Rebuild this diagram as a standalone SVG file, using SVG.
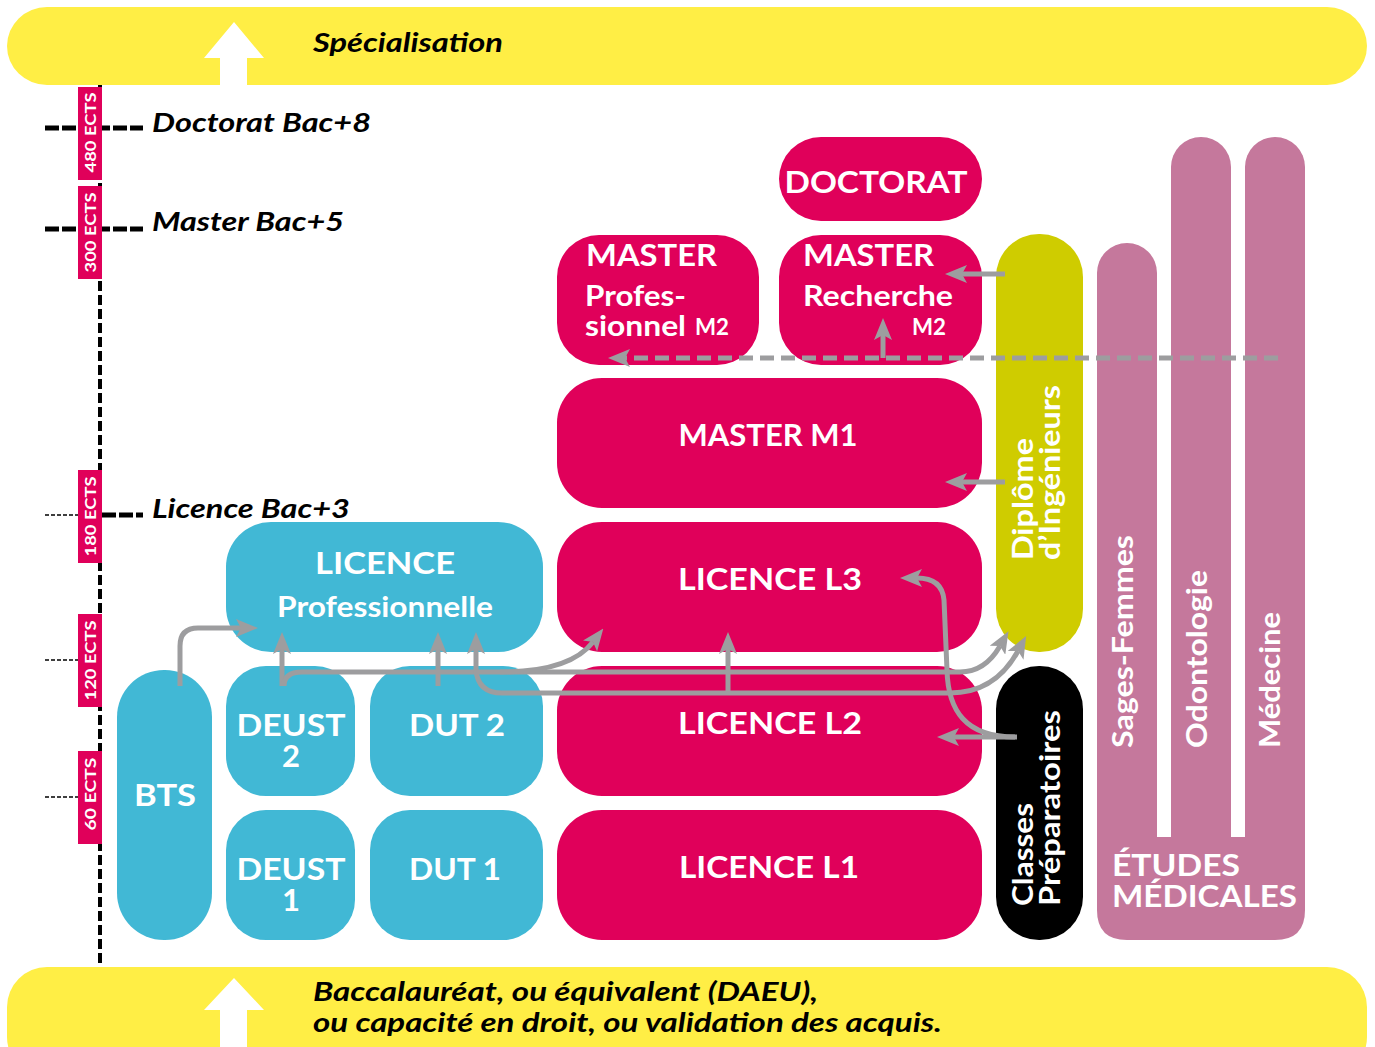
<svg xmlns="http://www.w3.org/2000/svg" width="1375" height="1047" viewBox="0 0 1375 1047">
<style>
.lbl{font-family:Lato,"Open Sans","Liberation Sans",sans-serif;font-weight:700;fill:#fff}
.it{font-family:Lato,"Open Sans","Liberation Sans",sans-serif;font-weight:700;font-style:italic;fill:#000}
.mag{fill:#E0005A}
.cy{fill:#41B8D5}
.pk{fill:#C5789C}
.con{fill:none;stroke:#9D9D9F;stroke-width:5}
.ects{font-family:Lato,"Open Sans","Liberation Sans",sans-serif;font-weight:700;font-size:16px;fill:#fff}
</style>
<defs>
<marker id="ah" viewBox="0 0 22 18" refX="5" refY="9" markerWidth="22" markerHeight="18" markerUnits="userSpaceOnUse" orient="auto-start-reverse">
<path d="M0,0 L22,9 L0,18 L5,9 z" fill="#9D9D9F"/>
</marker>
</defs>
<rect width="1375" height="1047" fill="#fff"/>

<g id="banner-top">
<rect x="7" y="7" width="1360" height="78" rx="40" fill="#FFEE45"/>
<path d="M220,85 V58 H204 L234,22 L264,58 H247 V85 z" fill="#fff"/>
<text class="it" x="313" y="52" font-size="27" textLength="190" lengthAdjust="spacingAndGlyphs">Spécialisation</text>
</g>

<g id="banner-bottom">
<rect x="7" y="967" width="1360" height="110" rx="40" fill="#FFEE45"/>
<path d="M220,1047 V1010 H204 L234,978 L264,1010 H247 V1047 z" fill="#fff"/>
<text class="it" x="313" y="1001" font-size="27" textLength="505" lengthAdjust="spacingAndGlyphs">Baccalauréat, ou équivalent (DAEU),</text>
<text class="it" x="313" y="1032" font-size="27" textLength="629" lengthAdjust="spacingAndGlyphs">ou capacité en droit, ou validation des acquis.</text>
</g>

<g id="axis">
<line x1="100" y1="85" x2="100" y2="967" stroke="#000" stroke-width="4" stroke-dasharray="10 4"/>
<line x1="45" y1="128" x2="143" y2="128" stroke="#000" stroke-width="5" stroke-dasharray="14 3"/>
<line x1="45" y1="229" x2="143" y2="229" stroke="#000" stroke-width="5" stroke-dasharray="14 3"/>
<line x1="45" y1="515" x2="78" y2="515" stroke="#000" stroke-width="1.5" stroke-dasharray="4 2"/>
<line x1="102" y1="515" x2="143" y2="515" stroke="#000" stroke-width="5" stroke-dasharray="14 3"/>
<line x1="45" y1="660" x2="78" y2="660" stroke="#000" stroke-width="1.5" stroke-dasharray="4 2"/>
<line x1="45" y1="797" x2="78" y2="797" stroke="#000" stroke-width="1.5" stroke-dasharray="4 2"/>
<rect class="mag" x="78" y="87" width="24" height="93"/>
<rect class="mag" x="78" y="186" width="24" height="93"/>
<rect class="mag" x="78" y="470" width="24" height="93"/>
<rect class="mag" x="78" y="614" width="24" height="93"/>
<rect class="mag" x="78" y="751" width="24" height="93"/>
<text class="ects" text-anchor="middle" textLength="80" lengthAdjust="spacingAndGlyphs" transform="translate(96,132.5) rotate(-90)">480 ECTS</text>
<text class="ects" text-anchor="middle" textLength="80" lengthAdjust="spacingAndGlyphs" transform="translate(96,232.5) rotate(-90)">300 ECTS</text>
<text class="ects" text-anchor="middle" textLength="80" lengthAdjust="spacingAndGlyphs" transform="translate(96,516.5) rotate(-90)">180 ECTS</text>
<text class="ects" text-anchor="middle" textLength="80" lengthAdjust="spacingAndGlyphs" transform="translate(96,660.5) rotate(-90)">120 ECTS</text>
<text class="ects" text-anchor="middle" textLength="73" lengthAdjust="spacingAndGlyphs" transform="translate(96,794) rotate(-90)">60 ECTS</text>
<text class="it" x="152" y="132" font-size="27" textLength="219" lengthAdjust="spacingAndGlyphs">Doctorat Bac+8</text>
<text class="it" x="152" y="231" font-size="27" textLength="192" lengthAdjust="spacingAndGlyphs">Master Bac+5</text>
<text class="it" x="152" y="518" font-size="27" textLength="198" lengthAdjust="spacingAndGlyphs">Licence Bac+3</text>
</g>

<g id="bts">
<rect class="cy" x="117" y="670" width="95" height="270" rx="47"/>
<text class="lbl" x="165" y="806" font-size="31" text-anchor="middle" textLength="62" lengthAdjust="spacingAndGlyphs">BTS</text>
</g>
<g id="deust2">
<rect class="cy" x="226" y="666" width="129" height="130" rx="40"/>
<text class="lbl" x="291" y="736" font-size="31" text-anchor="middle" textLength="109" lengthAdjust="spacingAndGlyphs">DEUST</text>
<text class="lbl" x="291" y="767" font-size="31" text-anchor="middle">2</text>
</g>
<g id="deust1">
<rect class="cy" x="226" y="810" width="129" height="130" rx="40"/>
<text class="lbl" x="291" y="880" font-size="31" text-anchor="middle" textLength="109" lengthAdjust="spacingAndGlyphs">DEUST</text>
<text class="lbl" x="291" y="911" font-size="31" text-anchor="middle">1</text>
</g>
<g id="dut2">
<rect class="cy" x="370" y="666" width="173" height="130" rx="40"/>
<text class="lbl" x="457" y="736" font-size="31" text-anchor="middle" textLength="96" lengthAdjust="spacingAndGlyphs">DUT 2</text>
</g>
<g id="dut1">
<rect class="cy" x="370" y="810" width="173" height="130" rx="40"/>
<text class="lbl" x="455" y="880" font-size="31" text-anchor="middle" textLength="92" lengthAdjust="spacingAndGlyphs">DUT 1</text>
</g>
<g id="licence-pro">
<rect class="cy" x="226" y="522" width="317" height="130" rx="45"/>
<text class="lbl" x="385" y="574" font-size="31" text-anchor="middle" textLength="140" lengthAdjust="spacingAndGlyphs">LICENCE</text>
<text class="lbl" x="385" y="617" font-size="29" text-anchor="middle" textLength="216" lengthAdjust="spacingAndGlyphs">Professionnelle</text>
</g>
<g id="licence-l1">
<rect class="mag" x="557" y="810" width="425" height="130" rx="45"/>
<text class="lbl" x="769" y="878" font-size="31" text-anchor="middle" textLength="180" lengthAdjust="spacingAndGlyphs">LICENCE L1</text>
</g>
<g id="licence-l2">
<rect class="mag" x="557" y="666" width="425" height="130" rx="45"/>
<text class="lbl" x="770" y="734" font-size="31" text-anchor="middle" textLength="184" lengthAdjust="spacingAndGlyphs">LICENCE L2</text>
</g>
<g id="licence-l3">
<rect class="mag" x="557" y="522" width="425" height="130" rx="45"/>
<text class="lbl" x="770" y="590" font-size="31" text-anchor="middle" textLength="184" lengthAdjust="spacingAndGlyphs">LICENCE L3</text>
</g>
<g id="master-m1">
<rect class="mag" x="557" y="378" width="425" height="130" rx="45"/>
<text class="lbl" x="768" y="446" font-size="31" text-anchor="middle" textLength="179" lengthAdjust="spacingAndGlyphs">MASTER M1</text>
</g>
<g id="master-pro">
<rect class="mag" x="557" y="235" width="202" height="130" rx="42"/>
<text class="lbl" x="586" y="266" font-size="31" textLength="131" lengthAdjust="spacingAndGlyphs">MASTER</text>
<text class="lbl" x="585" y="306" font-size="29" textLength="101" lengthAdjust="spacingAndGlyphs">Profes-</text>
<text class="lbl" x="585" y="336" font-size="29" textLength="101" lengthAdjust="spacingAndGlyphs">sionnel</text>
<text class="lbl" x="695" y="335" font-size="23" textLength="34" lengthAdjust="spacingAndGlyphs">M2</text>
</g>
<g id="master-recherche">
<rect class="mag" x="779" y="235" width="203" height="130" rx="42"/>
<text class="lbl" x="803" y="266" font-size="31" textLength="131" lengthAdjust="spacingAndGlyphs">MASTER</text>
<text class="lbl" x="803" y="306" font-size="29" textLength="150" lengthAdjust="spacingAndGlyphs">Recherche</text>
<text class="lbl" x="912" y="335" font-size="23" textLength="34" lengthAdjust="spacingAndGlyphs">M2</text>
</g>
<g id="doctorat">
<rect class="mag" x="779" y="137" width="203" height="84" rx="42"/>
<text class="lbl" x="876" y="193" font-size="31" text-anchor="middle" textLength="183" lengthAdjust="spacingAndGlyphs">DOCTORAT</text>
</g>
<g id="ingenieurs">
<rect x="996" y="234" width="87" height="418" rx="43" fill="#CFCC00"/>
<text class="lbl" font-size="28" textLength="122" lengthAdjust="spacingAndGlyphs" transform="translate(1033,560) rotate(-90)">Diplôme</text>
<text class="lbl" font-size="28" textLength="175" lengthAdjust="spacingAndGlyphs" transform="translate(1060,560) rotate(-90)">d’Ingénieurs</text>
</g>
<g id="prepa">
<rect x="996" y="666" width="87" height="274" rx="43" fill="#000"/>
<text class="lbl" font-size="28" textLength="103" lengthAdjust="spacingAndGlyphs" transform="translate(1033,906) rotate(-90)">Classes</text>
<text class="lbl" font-size="28" textLength="196" lengthAdjust="spacingAndGlyphs" transform="translate(1060,906) rotate(-90)">Préparatoires</text>
</g>
<g id="etudes-medicales">
<rect class="pk" x="1097" y="243" width="60" height="660" rx="30"/>
<rect class="pk" x="1171" y="137" width="60" height="760" rx="30"/>
<rect class="pk" x="1245" y="137" width="60" height="760" rx="30"/>
<path class="pk" d="M1097,837 H1305 V910 Q1305,940 1275,940 H1127 Q1097,940 1097,910 z"/>
<text class="lbl" font-size="28" textLength="213" lengthAdjust="spacingAndGlyphs" transform="translate(1133,748) rotate(-90)">Sages-Femmes</text>
<text class="lbl" font-size="28" textLength="178" lengthAdjust="spacingAndGlyphs" transform="translate(1207,748) rotate(-90)">Odontologie</text>
<text class="lbl" font-size="28" textLength="136" lengthAdjust="spacingAndGlyphs" transform="translate(1280,748) rotate(-90)">Médecine</text>
<text class="lbl" x="1112" y="876" font-size="30" textLength="128" lengthAdjust="spacingAndGlyphs">ÉTUDES</text>
<text class="lbl" x="1112" y="907" font-size="30" textLength="185" lengthAdjust="spacingAndGlyphs">MÉDICALES</text>
</g>

<g id="connectors">
<path class="con" d="M180,686 V646 Q180,628 198,628 H241" marker-end="url(#ah)"/>
<path class="con" d="M282,686 V649" marker-end="url(#ah)"/>
<path class="con" d="M284,686 Q284,672 302,672 H960 Q985,672 1000,646" marker-end="url(#ah)"/>
<path class="con" d="M500,672 Q570,672 593,642" marker-end="url(#ah)"/>
<path class="con" d="M438,686 V649" marker-end="url(#ah)"/>
<path class="con" d="M476,649 V670 Q478,693 502,693 H950 Q995,693 1018,651" marker-start="url(#ah)" marker-end="url(#ah)"/>
<path class="con" d="M728,693 V649" marker-end="url(#ah)"/>
<path class="con" d="M1017,737 H954" marker-end="url(#ah)"/>
<path class="con" d="M1015,737 C965,737 948,710 947,670 L944,600 Q942,578 917,578" marker-end="url(#ah)"/>
<path class="con" d="M1005,274 H962" marker-end="url(#ah)"/>
<path class="con" d="M1005,482 H962" marker-end="url(#ah)"/>
<path class="con" d="M1278,358 H625" stroke-dasharray="14 7" marker-end="url(#ah)"/>
<path class="con" d="M883,358 V335" marker-end="url(#ah)"/>
</g>
</svg>
